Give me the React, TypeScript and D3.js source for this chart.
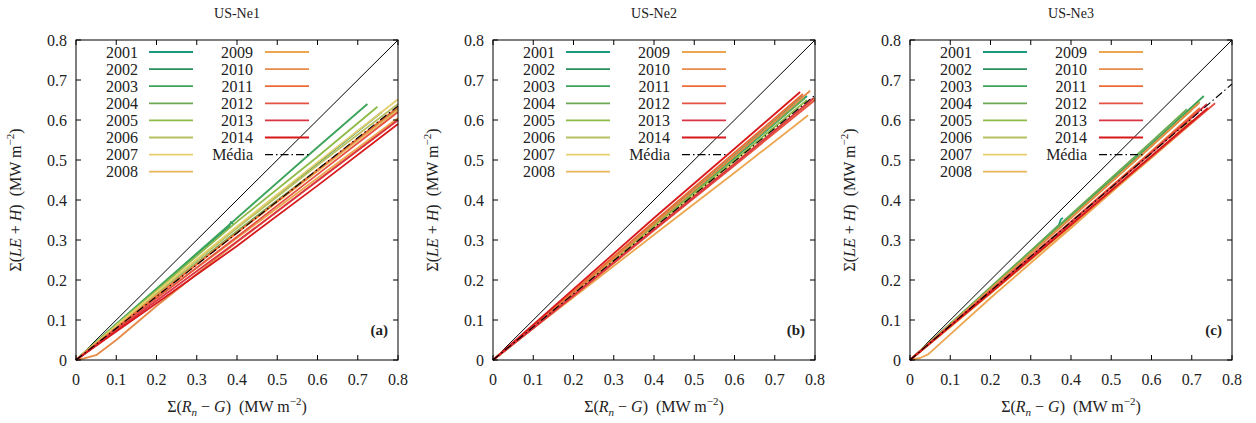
import React from 'react';
import * as d3 from 'd3';

type Pt = [number, number];

const YEARS = ['2001', '2002', '2003', '2004', '2005', '2006', '2007', '2008', '2009', '2010', '2011', '2012', '2013', '2014'];
const YEAR_COLORS = ['#1a9a7c', '#2a8f5c', '#3ba35a', '#6aaa50', '#8fba48', '#b9c064', '#e5cf6c', '#e8b75c', '#eca64f', '#e58a48', '#ee6b35', '#e65142', '#dc3342', '#d7191c'];
const MEAN_LABEL = 'Média';
const TICKS = [0, 0.1, 0.2, 0.3, 0.4, 0.5, 0.6, 0.7, 0.8];
const SITES = ['US-Ne1', 'US-Ne2', 'US-Ne3'];
const PANEL_TAGS = ['(a)', '(b)', '(c)'];

// cumulative available energy vs cumulative turbulent flux, one curve per year
const NE1: Pt[][] = [
  [[0, 0], [0.1, 0.088], [0.2, 0.176], [0.3, 0.265], [0.38, 0.333], [0.385, 0.345], [0.39, 0.34]],
  [[0, 0], [0.1, 0.085], [0.2, 0.168], [0.4, 0.332], [0.6, 0.492], [0.76, 0.62]],
  [[0, 0], [0.1, 0.09], [0.2, 0.178], [0.4, 0.355], [0.6, 0.532], [0.724, 0.64]],
  [[0, 0], [0.1, 0.083], [0.2, 0.163], [0.4, 0.322], [0.6, 0.476], [0.8, 0.628]],
  [[0, 0], [0.1, 0.088], [0.2, 0.174], [0.4, 0.346], [0.6, 0.508], [0.749, 0.633]],
  [[0, 0], [0.1, 0.085], [0.2, 0.168], [0.4, 0.33], [0.6, 0.487], [0.8, 0.64]],
  [[0, 0], [0.1, 0.086], [0.2, 0.17], [0.4, 0.334], [0.6, 0.494], [0.8, 0.652]],
  [[0, 0], [0.1, 0.082], [0.2, 0.162], [0.4, 0.318], [0.6, 0.472], [0.8, 0.625]],
  [[0, 0], [0.1, 0.078], [0.2, 0.155], [0.4, 0.305], [0.6, 0.455], [0.8, 0.605]],
  [[0, 0], [0.02, 0.004], [0.05, 0.012], [0.1, 0.05], [0.2, 0.135], [0.4, 0.295], [0.6, 0.448], [0.8, 0.6]],
  [[0, 0], [0.1, 0.08], [0.2, 0.16], [0.4, 0.318], [0.6, 0.475], [0.8, 0.632]],
  [[0, 0], [0.1, 0.077], [0.2, 0.154], [0.4, 0.308], [0.6, 0.464], [0.8, 0.62]],
  [[0, 0], [0.1, 0.074], [0.2, 0.148], [0.4, 0.296], [0.6, 0.448], [0.8, 0.6]],
  [[0, 0], [0.1, 0.071], [0.2, 0.142], [0.4, 0.285], [0.6, 0.436], [0.8, 0.59]],
];
const NE1_MEAN: Pt[] = [[0, 0], [0.8, 0.635]];

const NE2: Pt[][] = [
  [[0, 0], [0.1, 0.082], [0.2, 0.166], [0.4, 0.336], [0.6, 0.505], [0.78, 0.66]],
  [[0, 0], [0.1, 0.08], [0.2, 0.162], [0.4, 0.328], [0.6, 0.49], [0.8, 0.655]],
  [[0, 0], [0.1, 0.084], [0.2, 0.17], [0.4, 0.342], [0.6, 0.512], [0.77, 0.66]],
  [[0, 0], [0.1, 0.083], [0.2, 0.168], [0.4, 0.338], [0.6, 0.508], [0.775, 0.655]],
  [[0, 0], [0.1, 0.082], [0.2, 0.166], [0.4, 0.334], [0.6, 0.5], [0.78, 0.65]],
  [[0, 0], [0.1, 0.08], [0.2, 0.163], [0.4, 0.328], [0.6, 0.492], [0.78, 0.64]],
  [[0, 0], [0.1, 0.081], [0.2, 0.163], [0.4, 0.33], [0.6, 0.493], [0.8, 0.655]],
  [[0, 0], [0.1, 0.08], [0.2, 0.161], [0.4, 0.325], [0.6, 0.488], [0.79, 0.645]],
  [[0, 0], [0.1, 0.079], [0.2, 0.157], [0.4, 0.313], [0.6, 0.468], [0.783, 0.612]],
  [[0, 0], [0.1, 0.083], [0.2, 0.168], [0.4, 0.34], [0.6, 0.51], [0.788, 0.673]],
  [[0, 0], [0.1, 0.085], [0.2, 0.172], [0.4, 0.346], [0.6, 0.518], [0.77, 0.665]],
  [[0, 0], [0.1, 0.079], [0.2, 0.16], [0.4, 0.324], [0.6, 0.486], [0.8, 0.65]],
  [[0, 0], [0.1, 0.08], [0.2, 0.162], [0.4, 0.327], [0.6, 0.49], [0.797, 0.655]],
  [[0, 0], [0.1, 0.088], [0.2, 0.177], [0.4, 0.355], [0.6, 0.528], [0.763, 0.67]],
];
const NE2_MEAN: Pt[] = [[0, 0], [0.8, 0.662]];

const NE3: Pt[][] = [
  [[0, 0], [0.1, 0.09], [0.2, 0.18], [0.3, 0.272], [0.37, 0.338], [0.375, 0.352], [0.38, 0.355]],
  [[0, 0], [0.1, 0.088], [0.2, 0.178], [0.4, 0.358], [0.6, 0.538], [0.7, 0.63]],
  [[0, 0], [0.1, 0.09], [0.2, 0.18], [0.4, 0.36], [0.6, 0.54], [0.73, 0.66]],
  [[0, 0], [0.1, 0.09], [0.2, 0.182], [0.4, 0.364], [0.6, 0.546], [0.688, 0.627]],
  [[0, 0], [0.1, 0.089], [0.2, 0.178], [0.4, 0.356], [0.6, 0.535], [0.72, 0.645]],
  [[0, 0], [0.1, 0.088], [0.2, 0.177], [0.4, 0.355], [0.6, 0.535], [0.7, 0.625]],
  [[0, 0], [0.1, 0.085], [0.2, 0.17], [0.4, 0.343], [0.6, 0.518], [0.71, 0.615]],
  [[0, 0], [0.1, 0.082], [0.2, 0.166], [0.4, 0.334], [0.6, 0.505], [0.72, 0.61]],
  [[0, 0], [0.025, 0.005], [0.045, 0.014], [0.1, 0.064], [0.2, 0.155], [0.4, 0.33], [0.6, 0.508], [0.7, 0.6]],
  [[0, 0], [0.1, 0.088], [0.2, 0.177], [0.4, 0.355], [0.6, 0.535], [0.718, 0.642]],
  [[0, 0], [0.1, 0.086], [0.2, 0.172], [0.4, 0.346], [0.6, 0.522], [0.72, 0.63]],
  [[0, 0], [0.1, 0.084], [0.2, 0.168], [0.4, 0.338], [0.6, 0.508], [0.758, 0.642]],
  [[0, 0], [0.1, 0.086], [0.2, 0.172], [0.4, 0.345], [0.6, 0.518], [0.738, 0.64]],
  [[0, 0], [0.1, 0.084], [0.2, 0.168], [0.4, 0.338], [0.6, 0.51], [0.74, 0.63]],
];
const NE3_MEAN: Pt[] = [[0, 0], [0.8, 0.69]];

const PANEL_SERIES = [NE1, NE2, NE3];
const PANEL_MEANS = [NE1_MEAN, NE2_MEAN, NE3_MEAN];

const FONT = '"Liberation Serif", "Times New Roman", serif';
const TEXT = '#222';
const PANEL_LEFT = [76, 493, 910];
const PLOT_W = 322;
const TOP = 40;
const BOTTOM = 360;
const TICK_LEN = 5;
const MEAN_DASH = '8,3,1.5,3';
const GAP = '\u00A0\u00A0';

function Panel({ idx }: { idx: number }) {
  const x0 = PANEL_LEFT[idx];
  const x = d3.scaleLinear().domain([0, 0.8]).range([x0, x0 + PLOT_W]);
  const y = d3.scaleLinear().domain([0, 0.8]).range([BOTTOM, TOP]);
  const line = d3.line<Pt>().x((d) => x(d[0])).y((d) => y(d[1]));
  const series = PANEL_SERIES[idx];
  const mean = PANEL_MEANS[idx];
  const cx = x0 + PLOT_W / 2;
  const cy = (TOP + BOTTOM) / 2;

  const rowY = (i: number) => 52 + i * 17.1;
  const legendItems = YEARS.map((yr, i) => ({
    label: yr,
    col: i < 8 ? 0 : 1,
    row: i < 8 ? i : i - 8,
    color: YEAR_COLORS[i],
  }));

  return (
    <g>
      {/* title */}
      <text x={cx} y={18} textAnchor="middle" fontSize={14} fill={TEXT} fontFamily={FONT}>
        {SITES[idx]}
      </text>

      {/* 1:1 reference line */}
      <line x1={x(0)} y1={y(0)} x2={x(0.8)} y2={y(0.8)} stroke="#000" strokeWidth={1} />

      {/* yearly curves */}
      {series.map((s, i) => (
        <path key={i} d={line(s) || ''} fill="none" stroke={YEAR_COLORS[i]} strokeWidth={1.8} strokeLinejoin="round" />
      ))}
      <path d={line(mean) || ''} fill="none" stroke="#000" strokeWidth={1.1} strokeDasharray={MEAN_DASH} />

      {/* frame and inward ticks on all sides */}
      <rect x={x0} y={TOP} width={PLOT_W} height={BOTTOM - TOP} fill="none" stroke="#000" strokeWidth={1} />
      {TICKS.map((t) => (
        <g key={t}>
          <line x1={x(t)} x2={x(t)} y1={BOTTOM} y2={BOTTOM - TICK_LEN} stroke="#000" />
          <line x1={x(t)} x2={x(t)} y1={TOP} y2={TOP + TICK_LEN} stroke="#000" />
          <line x1={x0} x2={x0 + TICK_LEN} y1={y(t)} y2={y(t)} stroke="#000" />
          <line x1={x0 + PLOT_W} x2={x0 + PLOT_W - TICK_LEN} y1={y(t)} y2={y(t)} stroke="#000" />
          <text x={x(t)} y={385} textAnchor="middle" fontSize={16} fill={TEXT} fontFamily={FONT}>
            {t === 0 ? '0' : t.toFixed(1)}
          </text>
          <text x={x0 - 9} y={y(t) + 5.5} textAnchor="end" fontSize={16} fill={TEXT} fontFamily={FONT}>
            {t === 0 ? '0' : t.toFixed(1)}
          </text>
        </g>
      ))}

      {/* legend */}
      {legendItems.map((it) => {
        const ly = rowY(it.row);
        const labelEnd = x0 + (it.col === 0 ? 62 : 177);
        const s0 = x0 + (it.col === 0 ? 73 : 189);
        return (
          <g key={it.label}>
            <text x={labelEnd} y={ly + 5.5} textAnchor="end" fontSize={16} fill={TEXT} fontFamily={FONT}>
              {it.label}
            </text>
            <line x1={s0} x2={s0 + 44} y1={ly} y2={ly} stroke={it.color} strokeWidth={1.8} />
          </g>
        );
      })}
      <text x={x0 + 177} y={rowY(6) + 5.5} textAnchor="end" fontSize={16} fill={TEXT} fontFamily={FONT}>
        {MEAN_LABEL}
      </text>
      <line x1={x0 + 189} x2={x0 + 233} y1={rowY(6)} y2={rowY(6)} stroke="#000" strokeWidth={1.1} strokeDasharray={MEAN_DASH} />

      {/* panel tag */}
      <text x={x0 + PLOT_W - 10} y={335} textAnchor="end" fontSize={15} fontWeight="bold" fill={TEXT} fontFamily={FONT}>
        {PANEL_TAGS[idx]}
      </text>

      {/* x axis label */}
      <text x={cx} y={412} textAnchor="middle" fontSize={16} fill={TEXT} fontFamily={FONT}>
        Σ(<tspan fontStyle="italic">R</tspan>
        <tspan fontStyle="italic" fontSize={11} dy={4}>n</tspan>
        <tspan dy={-4}> − </tspan>
        <tspan fontStyle="italic">G</tspan>){GAP}(MW m
        <tspan fontSize={11} dy={-7}>−2</tspan>
        <tspan dy={7}>)</tspan>
      </text>

      {/* y axis label */}
      <text
        transform={`translate(${x0 - 55},${cy}) rotate(-90)`}
        textAnchor="middle"
        fontSize={16}
        fill={TEXT}
        fontFamily={FONT}
      >
        Σ(<tspan fontStyle="italic">LE</tspan> + <tspan fontStyle="italic">H</tspan>){GAP}(MW m
        <tspan fontSize={11} dy={-7}>−2</tspan>
        <tspan dy={7}>)</tspan>
      </text>
    </g>
  );
}

export default function App() {
  return (
    <svg
      width={1256}
      height={423}
      viewBox="0 0 1256 423"
      style={{ position: 'absolute', left: 0, top: 0, background: '#fff' }}
    >
      <rect width={1256} height={423} fill="#fff" />
      {[0, 1, 2].map((i) => (
        <Panel key={i} idx={i} />
      ))}
    </svg>
  );
}
